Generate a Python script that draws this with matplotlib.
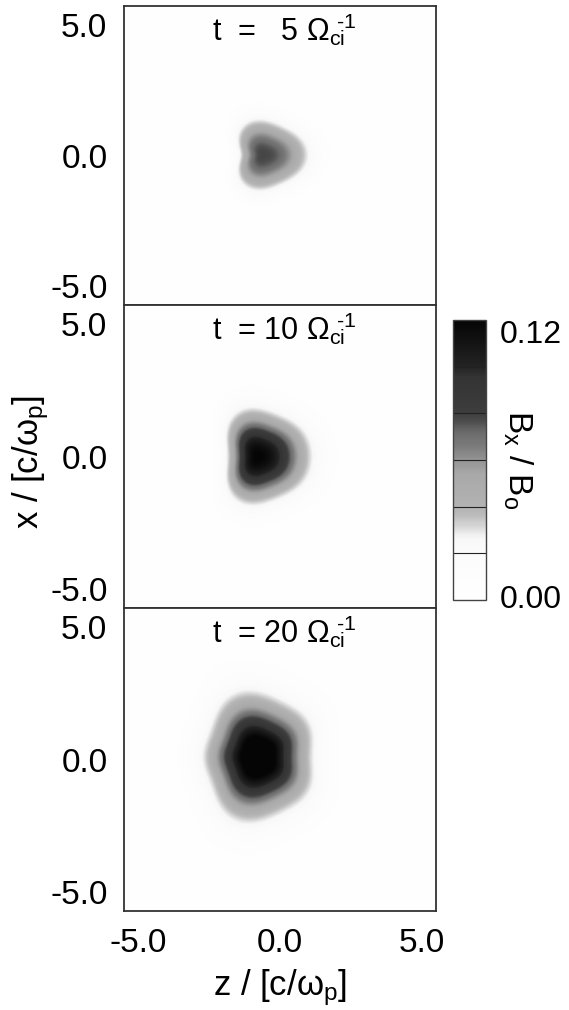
import numpy as np
import matplotlib
matplotlib.use('Agg')
import matplotlib.pyplot as plt
from matplotlib.colors import LinearSegmentedColormap, Normalize
from matplotlib.cm import ScalarMappable

plt.rcParams['font.family'] = ['Liberation Sans', 'DejaVu Sans']
plt.rcParams['mathtext.fontset'] = 'custom'
plt.rcParams['mathtext.rm'] = 'Liberation Sans'
plt.rcParams['mathtext.it'] = 'Liberation Sans'

# Panel data
times = ['5', '10', '20']
title_pad = ['   ', ' ', ' ']
peak = [0.076, 0.118, 0.138]          # max Bx/Bo in each panel
core_z = [-0.60, -0.80, -0.78]        # position of the dark core
core_x = [0.02, 0.00, 0.10]
radius = [1.28, 1.68, 2.23]           # mean blob radius (edge of grey)
harm_1 = [0.20, 0.20, 0.02]           # shape terms cos(n*theta)
harm_2 = [-0.06, -0.10, -0.12]
harm_3 = [0.11, 0.08, 0.02]
harm_5 = [0.00, 0.02, 0.04]
phase_5 = [0.0, 3.1416, 3.1416]
profile_pow = [2.6, 2.2, 2.0]

cbar_ticks = [0.0, 0.12]
cbar_ticklabels = ['0.00', '0.12']
cbar_bands = [0.02, 0.04, 0.06, 0.08, 0.10]
axis_ticks = [-5.0, 0.0, 5.0]
zlim = 5.5
xlim = 5.72

# grey colour map with stepped bands
nodes = [(0.0, 1.0), (0.167, 0.985), (0.22, 0.97), (0.26, 0.85), (0.30, 0.74),
         (0.333, 0.70), (0.45, 0.66), (0.50, 0.58), (0.55, 0.48), (0.60, 0.42),
         (0.64, 0.30), (0.667, 0.24), (0.80, 0.20), (0.833, 0.14), (1.0, 0.02)]
cmap = LinearSegmentedColormap.from_list('bx', [(p, (g, g, g)) for p, g in nodes])
norm = Normalize(0.0, 0.12)

zz, xx = np.meshgrid(np.linspace(-zlim, zlim, 400), np.linspace(-xlim, xlim, 400))

fig = plt.figure(figsize=(5.69, 10.10), dpi=100)
boxes = [[0.218, 0.698, 0.548, 0.296],
         [0.218, 0.398, 0.548, 0.300],
         [0.218, 0.098, 0.548, 0.300]]
axes = []
for i in range(3):
    ax = fig.add_axes(boxes[i])
    dz = zz - core_z[i]
    dx = xx - core_x[i]
    r = np.hypot(dz, dx)
    th = np.arctan2(dx, dz)
    R = radius[i] * (1 + harm_1[i] * np.cos(th) + harm_2[i] * np.cos(2 * th)
                     + harm_3[i] * np.cos(3 * th) + harm_5[i] * np.cos(5 * (th - phase_5[i])))
    k = np.log(peak[i] / 0.025)
    field = 0.002 + peak[i] * np.exp(-k * (r / R) ** profile_pow[i])
    ax.imshow(field, extent=[-zlim, zlim, -xlim, xlim], origin='lower', cmap=cmap, norm=norm,
              interpolation='bilinear', aspect='auto')
    ax.set_xlim(-zlim, zlim)
    ax.set_ylim(-xlim, xlim)
    ax.set_xticks(axis_ticks)
    ax.set_yticks(axis_ticks)
    ax.set_yticklabels(['%.1f' % v for v in axis_ticks])
    ax.tick_params(length=0, labelsize=24, pad=12)
    if i < 2:
        ax.set_xticklabels([])
    else:
        ax.set_xticklabels(['%.1f' % v for v in axis_ticks])
    for s in ax.spines.values():
        s.set_linewidth(1.3)
        s.set_color('#333333')
    ax.text(0.515, 0.885, 't  =' + title_pad[i] + times[i] + r' $\Omega_{ci}{}^{\!\!\!\text{-1}}$',
            transform=ax.transAxes, ha='center', va='baseline', fontsize=22)
    axes.append(ax)

axes[2].set_xlabel(r'z / [c/$\omega_p$]', fontsize=25, labelpad=6)
fig.text(0.053, 0.543, r'x / [c/$\omega_p$]', rotation=90, ha='center', va='center', fontsize=25)

cax = fig.add_axes([0.796, 0.406, 0.058, 0.277])
cb = fig.colorbar(ScalarMappable(norm=norm, cmap=cmap), cax=cax)
cb.set_ticks(cbar_ticks)
cb.set_ticklabels(cbar_ticklabels)
cb.ax.tick_params(length=0, labelsize=23, pad=10)
labs = cb.ax.get_yticklabels()
labs[1].set_va('top')
labs[0].set_va('center')
cb.outline.set_linewidth(1.0)
cb.outline.set_edgecolor('#444444')
for b in cbar_bands:
    cax.axhline(b, color='#222222', linewidth=0.8)
cb.set_label(r'B$_x$ / B$_o$', rotation=270, fontsize=24, labelpad=-20)

fig.savefig('out.png', dpi=100)
